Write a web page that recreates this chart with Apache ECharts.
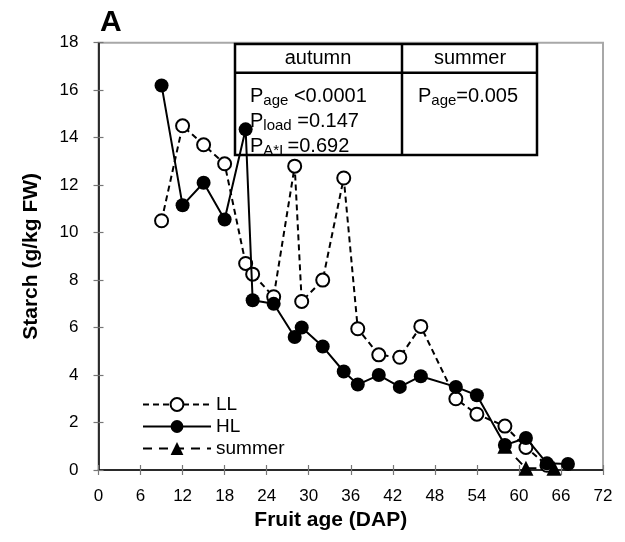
<!DOCTYPE html>
<html>
<head>
<meta charset="utf-8">
<script src="https://cdn.jsdelivr.net/npm/echarts@6/dist/echarts.min.js"></script>
<style>
html,body{margin:0;padding:0;background:#fff;}
#chart{width:625px;height:542px;}
</style>
</head>
<body>
<div id="chart"></div>
<script>
// ---- data ----
const daysLL = [9, 12, 15, 18, 21, 22, 25, 28, 29, 32, 35, 37, 40, 43, 46, 51, 54, 58, 61, 64];
const starchLL = [10.5, 14.5, 13.7, 12.9, 8.7, 8.25, 7.3, 12.8, 7.1, 8.0, 12.3, 5.95, 4.85, 4.75, 6.05, 3.0, 2.35, 1.85, 0.95, 0.2];
const daysHL = [9, 12, 15, 18, 21, 22, 25, 28, 29, 32, 35, 37, 40, 43, 46, 51, 54, 58, 61, 64, 67];
const starchHL = [16.2, 11.15, 12.1, 10.55, 14.35, 7.15, 7.0, 5.6, 6.0, 5.2, 4.15, 3.6, 4.0, 3.5, 3.95, 3.5, 3.15, 1.05, 1.35, 0.28, 0.25];
const daysSummer = [58, 61, 65];
const starchSummer = [1.0, 0.07, 0.07];
const seriesNames = ['LL', 'HL', 'summer'];
const xTitle = 'Fruit age (DAP)';
const yTitle = 'Starch (g/kg FW)';
const panelLabel = 'A';
const tableHeaders = ['autumn', 'summer'];

const zip = (xs, ys) => xs.map((x, i) => [x, ys[i]]);
const FONT = 'Liberation Sans, Arial, Helvetica, sans-serif';

const chart = echarts.init(document.getElementById('chart'), null, {renderer: 'canvas'});

const rich = {
  p: {fontSize: 20, fontFamily: FONT, color: '#000', lineHeight: 24},
  s: {fontSize: 15, fontFamily: FONT, color: '#000', lineHeight: 15, verticalAlign: 'bottom'}
};

function mkAxis(inside, isX, showLine) {
  return {
    type: 'value',
    min: 0,
    max: isX ? 72 : 18,
    interval: isX ? 6 : 2,
    splitLine: {show: false},
    axisLine: {show: showLine, onZero: false, lineStyle: {color: '#000', width: 1.5}},
    axisTick: {show: true, inside: inside, length: 5, lineStyle: {color: '#777', width: 1.2}},
    axisLabel: {show: !inside, fontSize: 17, fontFamily: FONT, color: '#000', margin: isX ? 18 : 20},
  };
}

const xMain = Object.assign(mkAxis(false, true, true), {
  name: xTitle, nameLocation: 'middle', nameGap: 38,
  nameTextStyle: {fontSize: 21, fontWeight: 'bold', fontFamily: FONT, color: '#000', padding: [0, 40, 0, 0]}
});
const yMain = Object.assign(mkAxis(false, false, true), {
  name: yTitle, nameLocation: 'middle', nameGap: 57,
  nameTextStyle: {fontSize: 21, fontWeight: 'bold', fontFamily: FONT, color: '#000'}
});
const xInner = Object.assign(mkAxis(true, true, false), {position: 'bottom'});
const yInner = Object.assign(mkAxis(true, false, false), {position: 'left'});

const option = {
  backgroundColor: '#fff',
  animation: false,
  grid: {left: 98.5, right: 22, top: 42.7, bottom: 72, show: true, borderColor: '#a8a8a8', borderWidth: 2, backgroundColor: 'transparent'},
  xAxis: [xMain, xInner],
  yAxis: [yMain, yInner],
  legend: {
    orient: 'vertical', left: 142, top: 395, padding: 0, itemWidth: 68, itemHeight: 16, itemGap: 3,
    textStyle: {fontSize: 19, fontFamily: FONT, color: '#000'},
    data: seriesNames
  },
  series: [
    {
      name: seriesNames[0], type: 'line', data: zip(daysLL, starchLL), z: 3,
      symbol: 'circle', symbolSize: 13,
      lineStyle: {color: '#000', width: 2, type: [6, 4]},
      itemStyle: {color: '#fff', borderColor: '#000', borderWidth: 2}
    },
    {
      name: seriesNames[1], type: 'line', data: zip(daysHL, starchHL), z: 4,
      symbol: 'circle', symbolSize: 14,
      lineStyle: {color: '#000', width: 2},
      itemStyle: {color: '#000', borderColor: '#000', borderWidth: 0}
    },
    {
      name: seriesNames[2], type: 'line', data: zip(daysSummer, starchSummer), z: 5,
      symbol: 'triangle', symbolSize: 15,
      lineStyle: {color: '#000', width: 2, type: [9, 7]},
      itemStyle: {color: '#000', borderColor: '#000', borderWidth: 0}
    }
  ],
  graphic: [
    {type: 'text', left: 100, top: 8, z: 0, style: {text: panelLabel, fontSize: 30, fontWeight: 'bold', fontFamily: FONT, fill: '#000'}},
    {type: 'rect', z: 0, shape: {x: 235, y: 44, width: 302, height: 111}, style: {fill: 'none', stroke: '#000', lineWidth: 2.5}},
    {type: 'line', z: 0, shape: {x1: 235, y1: 72.7, x2: 537, y2: 72.7}, style: {stroke: '#000', lineWidth: 2.5}},
    {type: 'line', z: 0, shape: {x1: 402, y1: 44, x2: 402, y2: 155}, style: {stroke: '#000', lineWidth: 2.5}},
    {type: 'text', x: 318, y: 58.5, z: 0, style: {text: tableHeaders[0], fontSize: 20, fontFamily: FONT, fill: '#000', textAlign: 'center', textVerticalAlign: 'middle'}},
    {type: 'text', x: 470, y: 58.5, z: 0, style: {text: tableHeaders[1], fontSize: 20, fontFamily: FONT, fill: '#000', textAlign: 'center', textVerticalAlign: 'middle'}},
    {type: 'text', x: 250, y: 96, z: 0, style: {text: '{p|P}{s|age}{p| <0.0001}', rich: rich, textAlign: 'left', textVerticalAlign: 'middle'}},
    {type: 'text', x: 250, y: 121, z: 0, style: {text: '{p|P}{s|load}{p| =0.147}', rich: rich, textAlign: 'left', textVerticalAlign: 'middle'}},
    {type: 'text', x: 250, y: 146, z: 0, style: {text: '{p|P}{s|A*L}{p|=0.692}', rich: rich, textAlign: 'left', textVerticalAlign: 'middle'}},
    {type: 'text', x: 418, y: 96, z: 0, style: {text: '{p|P}{s|age}{p|=0.005}', rich: rich, textAlign: 'left', textVerticalAlign: 'middle'}}
  ]
};
chart.setOption(option);
</script>
</body>
</html>
